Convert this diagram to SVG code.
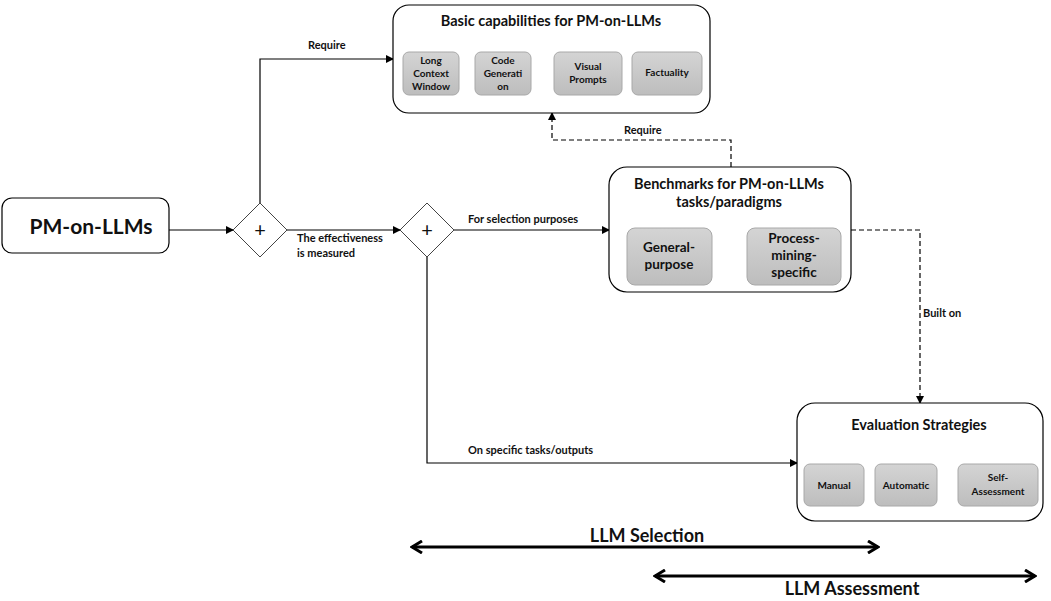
<svg xmlns="http://www.w3.org/2000/svg" width="1051" height="601" viewBox="0 0 1051 601">
<defs>
<linearGradient id="g" x1="0" y1="0" x2="0" y2="1">
<stop offset="0" stop-color="#d4d4d4"/>
<stop offset="1" stop-color="#bdbdbd"/>
</linearGradient>
<marker id="a" markerWidth="8" markerHeight="8" refX="7" refY="4" orient="auto" markerUnits="userSpaceOnUse">
<path d="M0,0 L8,4 L0,8 Z" fill="#000"/>
</marker>
<marker id="b" markerWidth="14" markerHeight="14" refX="12" refY="7" orient="auto-start-reverse" markerUnits="userSpaceOnUse">
<path d="M2,1 L12,7 L2,13" fill="none" stroke="#000" stroke-width="3"/>
</marker>
</defs>
<style>
text{font-family:Lato,"Open Sans","Liberation Sans",sans-serif;font-weight:bold;fill:#111;text-anchor:middle}
.box{fill:#fff;stroke:#000;stroke-width:1.2}
.sub{fill:url(#g);stroke:#a8a8a8;stroke-width:1}
.dia{fill:#fff;stroke:#444;stroke-width:1}
.c{fill:none;stroke:#000;stroke-width:1.2}
.d{fill:none;stroke:#000;stroke-width:1.2;stroke-dasharray:5,3}
.big{fill:none;stroke:#000;stroke-width:3}
.t{font-size:14.5px}
.m{font-size:13.5px}
.s{font-size:10px}
.l{font-size:11px;text-anchor:start}
</style>
<rect width="1051" height="601" fill="#fff"/>
<g id="connectors">
<line class="c" x1="169" y1="230" x2="233" y2="230" marker-end="url(#a)"/>
<polyline class="c" points="260,203 260,59 393,59" marker-end="url(#a)"/>
<line class="c" x1="287" y1="230" x2="400" y2="230" marker-end="url(#a)"/>
<line class="c" x1="454" y1="230" x2="609" y2="230" marker-end="url(#a)"/>
<polyline class="c" points="427,257 427,463 797,463" marker-end="url(#a)"/>
<polyline class="d" points="731,167 731,140 552,140 552,113" marker-end="url(#a)"/>
<polyline class="d" points="851,230 920,230 920,403" marker-end="url(#a)"/>
<text class="l" x="308" y="49">Require</text>
<text class="l" x="297" y="242">The effectiveness</text>
<text class="l" x="297" y="257">is measured</text>
<text class="l" x="468" y="223">For selection purposes</text>
<text class="l" x="468" y="454">On specific tasks/outputs</text>
<text class="l" x="624" y="134">Require</text>
<text class="l" x="923" y="317">Built on</text>
</g>
<g id="pm-on-llms">
<rect class="box" x="2" y="198" width="167" height="55" rx="10"/>
<text x="91" y="234" style="font-size:21px">PM-on-LLMs</text>
</g>
<g id="gateway1">
<polygon class="dia" points="260,203 287,230 260,257 233,230"/>
<text x="260" y="237" style="font-size:20px;font-weight:normal">+</text>
</g>
<g id="gateway2">
<polygon class="dia" points="427,203 454,230 427,257 400,230"/>
<text x="427" y="237" style="font-size:20px;font-weight:normal">+</text>
</g>
<g id="basic-capabilities">
<rect class="box" x="393" y="5" width="317" height="108" rx="16"/>
<text class="t" x="551" y="26">Basic capabilities for PM-on-LLMs</text>
<rect class="sub" x="403" y="52" width="56" height="43" rx="6"/>
<text class="s" x="431" y="64">Long</text><text class="s" x="431" y="77">Context</text><text class="s" x="431" y="90">Window</text>
<rect class="sub" x="475" y="52" width="56" height="43" rx="6"/>
<text class="s" x="503" y="64">Code</text><text class="s" x="503" y="77">Generati</text><text class="s" x="503" y="90">on</text>
<rect class="sub" x="554" y="52" width="68" height="43" rx="6"/>
<text class="s" x="588" y="70">Visual</text><text class="s" x="588" y="83">Prompts</text>
<rect class="sub" x="632" y="52" width="70" height="43" rx="6"/>
<text class="s" x="667" y="76">Factuality</text>
</g>
<g id="benchmarks">
<rect class="box" x="609" y="167" width="242" height="125" rx="18"/>
<text class="t" x="729" y="189">Benchmarks for PM-on-LLMs</text>
<text class="t" x="729" y="207">tasks/paradigms</text>
<rect class="sub" x="627" y="228" width="85" height="57" rx="8"/>
<text class="m" x="669" y="252">General-</text><text class="m" x="669" y="269">purpose</text>
<rect class="sub" x="747" y="228" width="94" height="57" rx="8"/>
<text class="m" x="794" y="243">Process-</text><text class="m" x="794" y="260">mining-</text><text class="m" x="794" y="277">specific</text>
</g>
<g id="evaluation">
<rect class="box" x="797" y="403" width="246" height="118" rx="18"/>
<text class="t" x="919" y="430">Evaluation Strategies</text>
<rect class="sub" x="804" y="464" width="60" height="42" rx="6"/>
<text class="s" x="834" y="489">Manual</text>
<rect class="sub" x="875" y="464" width="62" height="42" rx="6"/>
<text class="s" x="906" y="489">Automatic</text>
<rect class="sub" x="958" y="464" width="80" height="42" rx="6"/>
<text class="s" x="998" y="481">Self-</text><text class="s" x="998" y="495">Assessment</text>
</g>
<g id="llm-selection">
<line class="big" x1="412" y1="547" x2="878" y2="547" marker-start="url(#b)" marker-end="url(#b)"/>
<text x="647" y="542" style="font-size:18px">LLM Selection</text>
</g>
<g id="llm-assessment">
<line class="big" x1="655" y1="576" x2="1035" y2="576" marker-start="url(#b)" marker-end="url(#b)"/>
<text x="852" y="595" style="font-size:18px">LLM Assessment</text>
</g>
</svg>
